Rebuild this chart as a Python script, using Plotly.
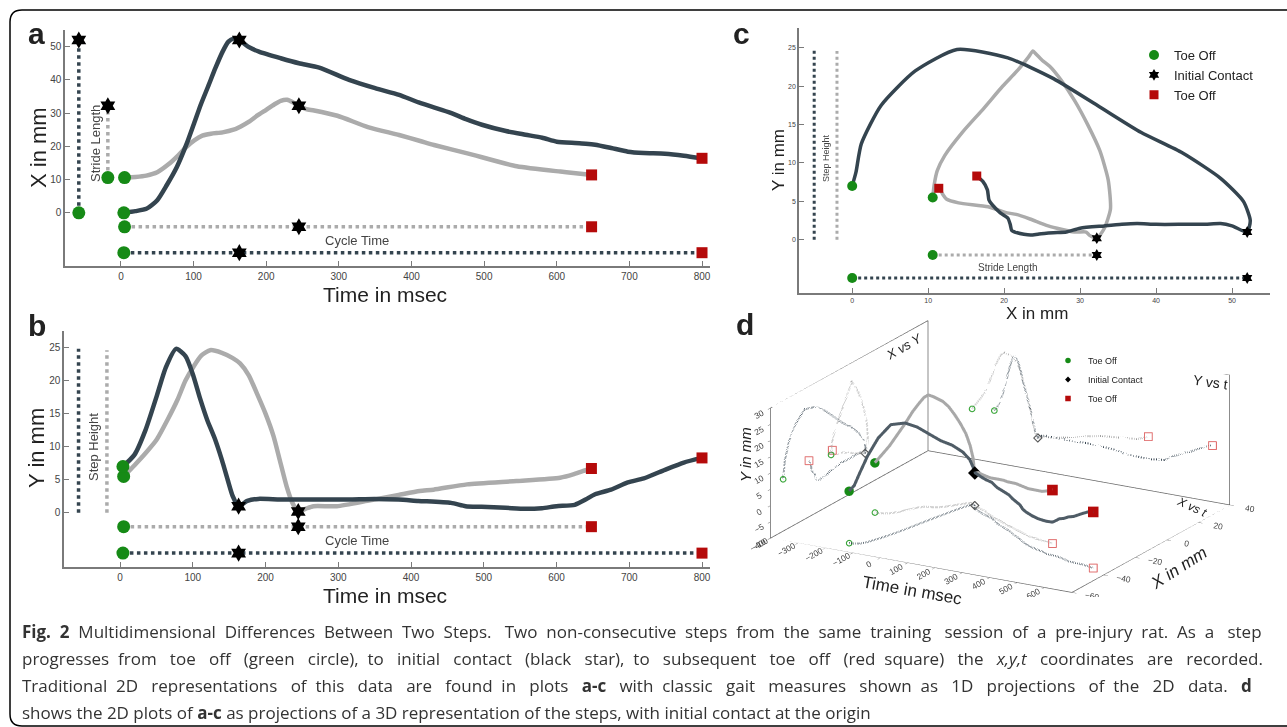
import numpy as np
import plotly.graph_objects as go

W, H = 1287, 727

# ---------------- data ----------------
# step 2 (dark): time (ms), X (mm), Y (mm)
t_dark = [4, 20, 35, 50, 63, 77, 90, 100, 110, 120, 130, 140, 148, 155, 163, 175, 190, 220, 245, 273,
          314, 350, 383, 410, 455, 475, 497, 530, 557, 580, 600, 625, 640, 653, 675, 698, 720, 749, 775, 800]
x_dark = [0, 0.5, 1.2, 3.8, 8.3, 13.8, 20.5, 26.5, 32.6, 38, 43.5, 48.5, 51.5, 52.4, 52, 50, 48.5, 46.5, 45, 43.7,
          40, 37.5, 35.5, 33.2, 30, 28.2, 26.5, 24.6, 23.5, 22.6, 21.4, 21, 20.8, 20.5, 19.5, 18.4, 18, 17.8, 17.2, 16.4]
y_dark = [7.0, 8.8, 12.5, 17.5, 22, 24.8, 23.7, 21, 17.3, 14, 11.3, 8, 5, 2.5, 1.0, 1.8, 2.1, 2.0, 2.0, 2.0,
          2.0, 2.1, 2.0, 1.8, 1.5, 1.0, 0.9, 0.75, 0.6, 0.7, 1.0, 1.2, 2.0, 2.8, 3.5, 4.6, 5.2, 6.5, 7.6, 8.3]
ic_dark = 14  # index of initial contact

# step 1 (gray)
t_gray = [5, 20, 35, 50, 65, 79, 90, 101, 112, 124, 140, 155, 165, 177, 188, 200, 211, 220, 229, 237,
          245, 255, 266, 298, 340, 383, 412, 431, 477, 545, 605, 623, 636, 648]
x_gray = [10.6, 10.8, 11.2, 12.2, 14.5, 17.3, 19.8, 21.8, 23.2, 23.8, 24.2, 25, 26, 27.5, 29.3, 31, 32.6, 33.7, 34, 33.2,
          32.2, 31.2, 30.8, 29.2, 25.8, 23.4, 21.6, 20.4, 17.9, 14, 12.4, 12.0, 11.7, 11.4]
y_gray = [5.5, 7.2, 9.0, 11, 14, 17.1, 20, 22.1, 23.8, 24.6, 24.2, 23.4, 22.6, 20.8, 18.1, 15, 11.6, 7.8, 4.0, 1.5,
          0.2, 0.6, 1.0, 1.0, 1.8, 2.7, 3.3, 3.5, 4.3, 4.8, 5.3, 5.8, 6.3, 6.7]
ic_gray = 20

legend_labels = ["Toe Off", "Initial Contact", "Toe Off"]
ticks_time = list(range(0, 801, 100))
ticks_xa = list(range(0, 51, 10))
ticks_yb = list(range(0, 26, 5))
ticks_xc = list(range(0, 51, 10))
ticks_yc = list(range(0, 26, 5))
ticks_d_t = list(range(-400, 601, 100))
ticks_d_x = list(range(-60, 41, 20))
ticks_d_y = list(range(-10, 31, 5))

caption_lines = [
    "<b>Fig. 2</b> Multidimensional Differences Between Two Steps. Two non-consecutive steps from the same training session of a pre-injury rat. As a step",
    "progresses from toe off (green circle), to initial contact (black star), to subsequent toe off (red square) the <i>x,y,t</i> coordinates are recorded.",
    "Traditional 2D representations of this data are found in plots <b>a-c</b> with classic gait measures shown as 1D projections of the 2D data. <b>d</b>",
    "shows the 2D plots of <b>a-c</b> as projections of a 3D representation of the steps, with initial contact at the origin",
]
caption_extra_spaces = [24, 38, 40, 0]   # justification padding per line

# ---------------- style ----------------
DARK = '#34444f'
DARK3D = '#4f5c66'
GRAY = '#ababab'
GREEN = '#168a16'
RED = '#b50a0a'
AXC = '#7a7a7a'
FONT = 'Liberation Sans, Arial, Helvetica, sans-serif'


def px(x):
    return x / W


def py(y):
    return 1 - y / H


steps = [
    dict(t=np.array(t_gray, float), x=np.array(x_gray, float), y=np.array(y_gray, float), ic=ic_gray, color=GRAY),
    dict(t=np.array(t_dark, float), x=np.array(x_dark, float), y=np.array(y_dark, float), ic=ic_dark, color=DARK),
]

fig = go.Figure()


def line(x, y, color, width, xa, ya, dash=None, spline=True):
    fig.add_trace(go.Scatter(x=x, y=y, mode='lines', xaxis=xa, yaxis=ya, showlegend=False, hoverinfo='skip',
                             line=dict(color=color, width=width, dash=dash, shape='spline' if spline else 'linear',
                                       smoothing=0.6)))


def marks(x, y, symbol, color, size, xa, ya, name=None, legend=None):
    fig.add_trace(go.Scatter(x=x, y=y, mode='markers', xaxis=xa, yaxis=ya, name=name,
                             showlegend=legend is not None, legend=legend or 'legend',
                             marker=dict(symbol=symbol, color=color, size=size, line=dict(width=0))))


# ---- panel a : X vs time ----
bar_t_a = {GRAY: -18, DARK: -58}
cyc_y_a = {GRAY: -4.2, DARK: -12}
for s in steps:
    c = s['color']
    line([bar_t_a[c]] * 2, [s['x'][0], s['x'][s['ic']]], c, 3.5, 'x', 'y', dash='dot', spline=False)
    line([s['t'][0], s['t'][-1]], [cyc_y_a[c]] * 2, c, 3.5, 'x', 'y', dash='dot', spline=False)
for s in steps:
    line(s['t'], s['x'], s['color'], 4.5, 'x', 'y')
g_x, g_y, k_x, k_y, r_x, r_y = [], [], [], [], [], []
for s in steps:
    c = s['color']
    g_x += [s['t'][0], bar_t_a[c], s['t'][0]]
    g_y += [s['x'][0], s['x'][0], cyc_y_a[c]]
    k_x += [s['t'][s['ic']], bar_t_a[c], s['t'][s['ic']]]
    k_y += [s['x'][s['ic']], s['x'][s['ic']], cyc_y_a[c]]
    r_x += [s['t'][-1], s['t'][-1]]
    r_y += [s['x'][-1], cyc_y_a[c]]
marks(g_x, g_y, 'circle', GREEN, 13, 'x', 'y')
marks(k_x, k_y, 'hexagram', 'black', 13, 'x', 'y')
marks(r_x, r_y, 'square', RED, 11, 'x', 'y')

# ---- panel b : Y vs time ----
bar_t_b = {GRAY: -18, DARK: -57}
cyc_y_b = {GRAY: -2.1, DARK: -6.1}
for s in steps:
    c = s['color']
    line([bar_t_b[c]] * 2, [0, s['y'].max()], c, 3.5, 'x2', 'y2', dash='dot', spline=False)
    line([s['t'][0], s['t'][-1]], [cyc_y_b[c]] * 2, c, 3.5, 'x2', 'y2', dash='dot', spline=False)
for s in steps:
    line(s['t'], s['y'], s['color'], 4.5, 'x2', 'y2')
g_x, g_y, k_x, k_y, r_x, r_y = [], [], [], [], [], []
for s in steps:
    c = s['color']
    g_x += [s['t'][0], s['t'][0]]
    g_y += [s['y'][0], cyc_y_b[c]]
    k_x += [s['t'][s['ic']], s['t'][s['ic']]]
    k_y += [s['y'][s['ic']], cyc_y_b[c]]
    r_x += [s['t'][-1], s['t'][-1]]
    r_y += [s['y'][-1], cyc_y_b[c]]
marks(g_x, g_y, 'circle', GREEN, 13, 'x2', 'y2')
marks(k_x, k_y, 'hexagram', 'black', 13, 'x2', 'y2')
marks(r_x, r_y, 'square', RED, 11, 'x2', 'y2')

# ---- panel c : Y vs X ----
bar_x_c = {GRAY: -2, DARK: -5}
str_y_c = {GRAY: -2, DARK: -5}
for s in steps:
    c = s['color']
    line([bar_x_c[c]] * 2, [0, s['y'].max()], c, 3, 'x3', 'y3', dash='dot', spline=False)
    line([s['x'][0], s['x'][s['ic']]], [str_y_c[c]] * 2, c, 3, 'x3', 'y3', dash='dot', spline=False)
for s in steps:
    line(s['x'], s['y'], s['color'], 3.5, 'x3', 'y3')
g_x, g_y, k_x, k_y, r_x, r_y = [], [], [], [], [], []
for s in steps:
    c = s['color']
    g_x += [s['x'][0], s['x'][0]]
    g_y += [s['y'][0], str_y_c[c]]
    k_x += [s['x'][s['ic']], s['x'][s['ic']]]
    k_y += [s['y'][s['ic']], str_y_c[c]]
    r_x += [s['x'][-1]]
    r_y += [s['y'][-1]]
marks(g_x, g_y, 'circle', GREEN, 10, 'x3', 'y3', name=legend_labels[0], legend='legend')
marks(k_x, k_y, 'hexagram', 'black', 9, 'x3', 'y3', name=legend_labels[1], legend='legend')
marks(r_x, r_y, 'square', RED, 9, 'x3', 'y3', name=legend_labels[2], legend='legend')

# ---- panel d : 3D ----
T0, T1 = -400, 700
X0, X1 = -60, 40
Y0, Y1 = -10, 30


def l3(x, y, z, color, width, dash='solid'):
    fig.add_trace(go.Scatter3d(x=x, y=y, z=z, mode='lines', showlegend=False, hoverinfo='skip',
                               line=dict(color=color, width=width, dash=dash), scene='scene'))


def m3(x, y, z, symbol, color, size, name=None, lw=0, legend=False):
    fig.add_trace(go.Scatter3d(x=x, y=y, z=z, mode='markers', scene='scene', name=name,
                               showlegend=legend, legend='legend2', hoverinfo='skip',
                               marker=dict(symbol=symbol, color=color, size=size,
                                           line=dict(width=lw, color=color))))


# box edges (back panes) from the axis ranges
ex, ey, ez = [], [], []
edges = [((T0, X0, Y0), (T0, X0, Y1)), ((T0, X0, Y1), (T0, X1, Y1)), ((T0, X1, Y0), (T0, X1, Y1)),
         ((T0, X1, Y1), (T1, X1, Y1)), ((T1, X1, Y0), (T1, X1, Y1)), ((T0, X0, Y0), (T1, X0, Y0)),
         ((T1, X0, Y0), (T1, X1, Y0)), ((T0, X0, Y0), (T0, X1, Y0)), ((T0, X1, Y0), (T1, X1, Y0))]
for a, b in edges:
    ex += [a[0], b[0], None]
    ey += [a[1], b[1], None]
    ez += [a[2], b[2], None]
l3(ex, ey, ez, '#666666', 1.5)

pg = {'gx': [], 'gy': [], 'gz': [], 'rx': [], 'ry': [], 'rz': [], 'kx': [], 'ky': [], 'kz': []}
main = {'gx': [], 'gy': [], 'gz': [], 'rx': [], 'ry': [], 'rz': []}
for s in steps:
    ic = s['ic']
    tt = s['t'] - s['t'][ic]
    xx = s['x'] - s['x'][ic]
    yy = s['y'] - s['y'][ic]
    pc = '#a0a0a0' if s['color'] == GRAY else '#3a4854'
    # projections: X vs Y (left wall), Y vs t (back wall), X vs t (floor)
    projs = [(np.full_like(tt, T0), xx, yy), (tt, np.full_like(tt, X1), yy), (tt, xx, np.full_like(tt, Y0))]
    for (a, b, c) in projs:
        l3(a, b, c, pc, 4, dash='dot')
        pg['gx'].append(a[0]); pg['gy'].append(b[0]); pg['gz'].append(c[0])
        pg['rx'].append(a[-1]); pg['ry'].append(b[-1]); pg['rz'].append(c[-1])
        pg['kx'].append(a[ic]); pg['ky'].append(b[ic]); pg['kz'].append(c[ic])
    l3(tt, xx, yy, '#a8a8a8' if s['color'] == GRAY else DARK3D, 6)
    main['gx'].append(tt[0]); main['gy'].append(xx[0]); main['gz'].append(yy[0])
    main['rx'].append(tt[-1]); main['ry'].append(xx[-1]); main['rz'].append(yy[-1])

m3(pg['gx'], pg['gy'], pg['gz'], 'circle-open', '#3aa63a', 3.5, lw=1.2)
m3(pg['rx'], pg['ry'], pg['rz'], 'square-open', '#e07070', 3.5, lw=1.2)
m3(pg['kx'], pg['ky'], pg['kz'], 'diamond-open', '#555555', 3, lw=1.2)
m3(main['gx'], main['gy'], main['gz'], 'circle', GREEN, 5.5, name=legend_labels[0], legend=True)
m3([0], [0], [0], 'diamond', 'black', 4.5, name=legend_labels[1], legend=True)
m3(main['rx'], main['ry'], main['rz'], 'square', RED, 5.5, name=legend_labels[2], legend=True)


# ---------------- layout ----------------
def ax2d(domain, rng, tickvals, anchor, fs=10):
    return dict(domain=domain, range=rng, tickvals=tickvals, anchor=anchor, showgrid=False, zeroline=False,
                showline=True, linecolor=AXC, linewidth=1.5, ticks='inside', ticklen=5, tickcolor=AXC,
                tickwidth=1, tickfont=dict(size=fs, color='#444', family=FONT), fixedrange=True)


def ax3d(rng, tickvals):
    return dict(range=rng, tickvals=tickvals, title=dict(text=''), showgrid=False, showbackground=False,
                showline=False, zeroline=False, showspikes=False, ticks='outside', ticklen=5, tickcolor='#666',
                tickfont=dict(size=10, color='#444', family=FONT))


SC = 2.27
d_dir = np.array([0.569, -1.0, 0.383])
d_dir = d_dir / np.linalg.norm(d_dir) * 3.0

fig.update_layout(
    width=W, height=H, margin=dict(l=0, r=0, t=0, b=0), paper_bgcolor='white', plot_bgcolor='rgba(0,0,0,0)',
    font=dict(family=FONT), hovermode=False,
    xaxis=ax2d([px(65), px(710)], [-77, 811], ticks_time, 'y'),
    yaxis=ax2d([py(266), py(30)], [-16, 55], ticks_xa, 'x'),
    xaxis2=ax2d([px(64), px(710)], [-77, 811], ticks_time, 'y2'),
    yaxis2=ax2d([py(567), py(331)], [-8.2, 27.5], ticks_yb, 'x2'),
    xaxis3=ax2d([px(799), px(1270)], [-7, 55], ticks_xc, 'y3', fs=7),
    yaxis3=ax2d([py(293), py(28)], [-6.95, 27.6], ticks_yc, 'x3', fs=7),
    scene=dict(domain=dict(x=[px(720), px(1280)], y=[py(597), py(316)]),
               aspectmode='manual', aspectratio=dict(x=1.088 * SC, y=1.0 * SC, z=0.43 * SC),
               xaxis=ax3d([T0, T1], ticks_d_t), yaxis=ax3d([X0, X1], ticks_d_x), zaxis=ax3d([Y0, Y1], ticks_d_y),
               camera=dict(projection=dict(type='orthographic'), up=dict(x=0, y=0, z=1),
                           center=dict(x=0, y=0, z=0),
                           eye=dict(x=float(d_dir[0]), y=float(d_dir[1]), z=float(d_dir[2]))),
               dragmode=False),
    legend=dict(x=px(1134), y=py(40), xanchor='left', yanchor='top', bgcolor='rgba(0,0,0,0)',
                font=dict(size=13, family=FONT, color='#222'), tracegroupgap=0, itemsizing='trace'),
    legend2=dict(x=px(1048), y=py(346), xanchor='left', yanchor='top', bgcolor='rgba(0,0,0,0)',
                 font=dict(size=9, family=FONT, color='#222'), tracegroupgap=0),
)

ann = []


def txt(x, y, s, size, angle=0, color='#222', family=FONT, xanchor='center', yanchor='middle'):
    ann.append(dict(x=px(x), y=py(y), xref='paper', yref='paper', text=s, showarrow=False, textangle=angle,
                    font=dict(size=size, color=color, family=family), xanchor=xanchor, yanchor=yanchor))


def justify(s, extra):
    words = s.split(' ')
    gaps = len(words) - 1
    out = words[0]
    for i in range(1, len(words)):
        n = extra * i // gaps - extra * (i - 1) // gaps
        out += ' ' + '&nbsp;' * n + words[i]
    return out


# panel letters
txt(36, 34, '<b>a</b>', 30)
txt(37, 325, '<b>b</b>', 30)
txt(741, 34, '<b>c</b>', 30)
txt(745, 324, '<b>d</b>', 30)
# axis titles
txt(385, 294, 'Time in msec', 21)
txt(38, 148, 'X in mm', 22, angle=-90)
txt(385, 595, 'Time in msec', 21)
txt(36, 448, 'Y in mm', 22, angle=-90)
txt(1037, 313, 'X in mm', 17)
txt(778, 160, 'Y in mm', 17, angle=-90)
# in-plot labels
txt(95, 143, 'Stride Length', 13, angle=-90, color='#444')
txt(357, 240, 'Cycle Time', 13, color='#444')
txt(93, 447, 'Step Height', 13, angle=-90, color='#444')
txt(357, 540, 'Cycle Time', 13, color='#444')
txt(826, 158, 'Step Height', 9, angle=-90, color='#444')
txt(1008, 267, 'Stride Length', 10, color='#444')
# panel d labels
txt(904, 346, '<i>X vs Y</i>', 13, angle=-30)
txt(1210, 382, 'Y vs t', 14, angle=8)
txt(1192, 507, '<i>X vs t</i>', 12, angle=25)
txt(912, 590, 'Time in msec', 17, angle=10)
txt(1178, 568, '<i>X in mm</i>', 17, angle=-33)
txt(745, 455, '<i>Y in mm</i>', 15, angle=-90)
# caption
for i, s in enumerate(caption_lines):
    txt(20, 631 + i * 27.3, justify(s, caption_extra_spaces[i]), 17, color='#333',
        family='Open Sans, Noto Sans, sans-serif', xanchor='left')

fig.update_layout(annotations=ann)

# outer frame
r = 12
L, T, R, B = 10, 10, 1300, 726
path = (f"M {px(L)},{py(T + r)} Q {px(L)},{py(T)} {px(L + r)},{py(T)} L {px(R)},{py(T)} L {px(R)},{py(B)} "
        f"L {px(L + r)},{py(B)} Q {px(L)},{py(B)} {px(L)},{py(B - r)} Z")
fig.add_shape(type='path', path=path, xref='paper', yref='paper', line=dict(color='black', width=1.5))

fig.write_html("out.html", config={'displayModeBar': False},
               post_script="document.body.style.margin='0px';")
